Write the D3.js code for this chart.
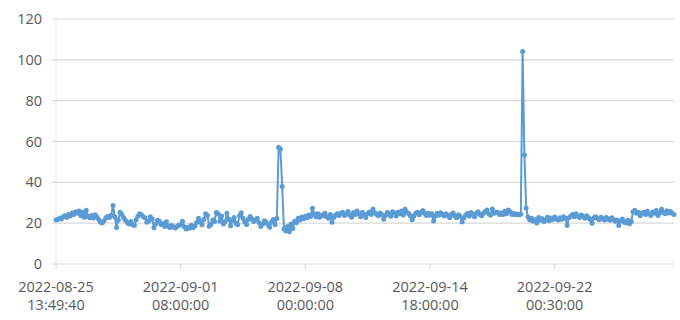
<!DOCTYPE html>
<html>
<head>
<meta charset="utf-8">
<script src="https://cdn.jsdelivr.net/npm/d3@7"></script>
<style>
  body { margin: 0; background: #fff; }
  text { font-family: "Open Sans", sans-serif; fill: #595959; }
</style>
</head>
<body>
<script>
// readings, one per sample (category axis, evenly spaced)
var values = [
  21.5, 21.8, 22.4, 22.0, 23.1, 23.6, 22.8, 24.2, 23.5, 25.0,
  24.3, 25.6, 24.8, 26.0, 23.6, 25.3, 22.9, 26.3, 23.4, 22.6,
  23.8, 22.5, 24.1, 23.0, 21.8, 20.4, 20.1, 21.2, 22.6, 23.3,
  22.8, 23.9, 28.6, 23.2, 17.9, 21.6, 25.4, 24.3, 22.7, 21.4,
  20.3, 19.6, 20.8, 19.2, 18.9, 21.7, 23.4, 24.6, 24.1, 23.2,
  22.6, 20.4, 21.0, 23.1, 22.0, 17.8, 19.6, 21.4, 20.9, 19.3,
  19.8, 18.4, 20.7, 18.6, 17.9, 18.8, 18.2, 17.6, 18.4, 19.0,
  19.2, 21.0, 18.3, 17.2, 18.0, 17.5, 19.0, 17.8, 18.6, 20.3,
  22.4, 20.6, 19.2, 21.8, 24.6, 23.8, 18.5, 19.4, 21.6, 20.8,
  25.2, 24.6, 21.0, 23.5, 19.6, 20.8, 24.9, 22.1, 18.7, 21.3,
  22.8, 20.0, 19.2, 23.8, 25.1, 22.4, 20.6, 19.4, 21.9, 23.3,
  22.0, 20.8, 21.6, 22.4, 20.2, 18.4, 19.6, 21.2, 20.4, 19.3,
  18.0, 20.6, 21.8, 19.4, 22.3, 57.2, 56.3, 38.0, 17.2, 16.2,
  18.4, 15.8, 19.6, 17.4, 21.0, 20.2, 22.4, 21.6, 23.0, 22.2,
  23.4, 22.6, 24.0, 23.3, 27.3, 24.5, 23.1, 24.6, 22.9, 24.0,
  23.5, 24.8, 23.2, 22.4, 24.3, 20.5, 22.8, 23.9, 24.6, 23.7,
  24.9, 25.3, 23.8, 24.4, 25.7, 24.0, 22.9, 25.1, 24.3, 26.0,
  24.6, 23.2, 25.4, 24.1, 22.8, 24.7, 25.5, 24.2, 26.9, 25.1,
  24.4, 23.6, 25.0, 24.1, 21.9, 23.8, 25.2, 24.5, 23.4, 25.6,
  24.8, 23.5, 25.3, 24.6, 25.9, 24.0, 26.8, 25.4, 24.7, 23.6,
  21.7, 23.5, 24.8, 25.3, 24.1, 25.2, 26.2, 24.7, 23.8, 24.9,
  23.9, 24.6, 21.1, 23.4, 24.8, 23.9, 25.1, 24.2, 23.5, 24.6,
  23.8, 22.6, 24.2, 25.0, 23.4, 22.7, 24.1, 23.3, 20.6, 22.5,
  23.9, 24.7, 23.5, 25.2, 24.4, 23.1, 24.8, 25.6, 24.3, 23.6,
  24.9, 25.7, 26.5, 24.6, 23.9, 27.0, 24.8, 25.3, 25.4, 24.3,
  25.0, 24.2, 25.8, 24.6, 26.4, 25.6, 24.3, 24.8, 24.1, 24.5,
  24.0, 24.4, 104.1, 53.4, 27.4, 23.0, 21.6, 22.4, 20.9, 21.7,
  20.1, 22.8, 21.4, 22.2, 20.8, 21.6, 22.9, 21.2, 22.5, 21.8,
  23.0, 22.1, 21.5, 22.6, 21.9, 23.1, 22.4, 18.8, 22.7, 23.4,
  24.2, 23.1, 24.6, 23.5, 22.8, 24.0, 23.2, 22.4, 23.6, 22.7,
  21.8, 19.9, 22.6, 23.1, 22.3, 21.7, 22.9, 22.2, 21.5, 22.8,
  22.1, 21.4, 22.6, 21.8, 20.9, 21.6, 18.9, 21.2, 22.0, 20.4,
  20.2, 21.4, 19.7, 20.8, 25.6, 26.3, 24.8, 25.4, 23.6, 24.9,
  25.3, 24.2, 25.8, 24.6, 23.8, 25.5, 24.9, 26.2, 23.7, 25.1,
  26.8, 25.4, 24.6, 26.1, 25.0, 25.7, 24.8, 24.2
];

// category labels shown every 70 samples
var tickIndex = [0, 70, 140, 210, 280];
var tickDate = ["2022-08-25", "2022-09-01", "2022-09-08", "2022-09-14", "2022-09-22"];
var tickTime = ["13:49:40", "08:00:00", "00:00:00", "18:00:00", "00:30:00"];

var yTicks = [0, 20, 40, 60, 80, 100, 120];

var w = 680, h = 320;
var margin = { top: 19, right: 6, bottom: 56, left: 56 };

var x = d3.scaleLinear()
  .domain([0, values.length - 1])
  .range([margin.left, w - margin.right]);

var y = d3.scaleLinear()
  .domain([0, 120])
  .range([h - margin.bottom, margin.top]);

var svg = d3.select("body").append("svg")
  .attr("width", w)
  .attr("height", h);

// horizontal gridlines
svg.append("g")
  .attr("class", "grid")
  .selectAll("line")
  .data(yTicks)
  .enter().append("line")
  .attr("x1", margin.left - 4)
  .attr("x2", w - margin.right)
  .attr("y1", function (d) { return y(d); })
  .attr("y2", function (d) { return y(d); })
  .attr("stroke", "#d9d9d9")
  .attr("stroke-width", 1.2);

// value axis line
svg.append("line")
  .attr("x1", margin.left)
  .attr("x2", margin.left)
  .attr("y1", y(120))
  .attr("y2", y(0))
  .attr("stroke", "#e4e4e4")
  .attr("stroke-width", 1);

// y labels
svg.append("g")
  .selectAll("text")
  .data(yTicks)
  .enter().append("text")
  .attr("x", 42)
  .attr("y", function (d) { return y(d); })
  .attr("dy", "0.35em")
  .attr("text-anchor", "end")
  .style("font-size", "14.5px")
  .text(function (d) { return d; });

// x tick marks
svg.append("g")
  .selectAll("line")
  .data(tickIndex)
  .enter().append("line")
  .attr("x1", function (d) { return x(d); })
  .attr("x2", function (d) { return x(d); })
  .attr("y1", y(0))
  .attr("y2", y(0) + 5)
  .attr("stroke", "#d0d0d0")
  .attr("stroke-width", 1);

// x labels (two lines)
var xl = svg.append("g")
  .selectAll("text")
  .data(tickIndex)
  .enter().append("text")
  .attr("text-anchor", "middle")
  .style("font-size", "14.5px");

xl.append("tspan")
  .attr("x", function (d) { return x(d); })
  .attr("y", 292)
  .text(function (d, i) { return tickDate[i]; });

xl.append("tspan")
  .attr("x", function (d) { return x(d); })
  .attr("y", 310)
  .text(function (d, i) { return tickTime[i]; });

var line = d3.line()
  .x(function (d, i) { return x(i); })
  .y(function (d) { return y(d); });

svg.append("path")
  .datum(values)
  .attr("fill", "none")
  .attr("stroke", "#5b9bd5")
  .attr("stroke-width", 2)
  .attr("stroke-linejoin", "round")
  .attr("d", line);

svg.append("g")
  .selectAll("circle")
  .data(values)
  .enter().append("circle")
  .attr("cx", function (d, i) { return x(i); })
  .attr("cy", function (d) { return y(d); })
  .attr("r", 2.5)
  .attr("fill", "#5b9bd5");
</script>
</body>
</html>
